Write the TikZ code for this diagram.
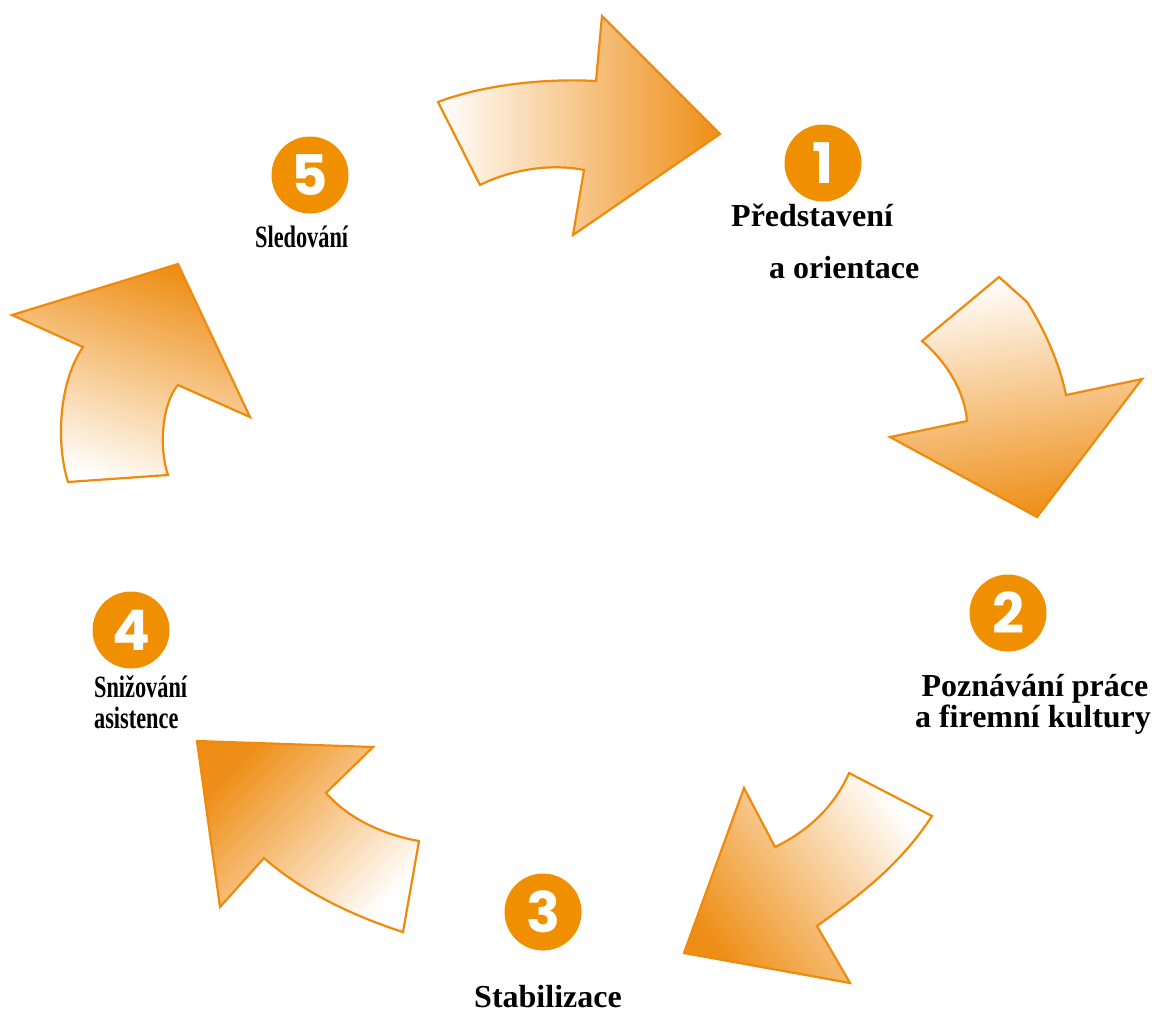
\documentclass[tikz,border=0pt]{standalone}
\usepackage{fontspec}
\setmainfont{Liberation Serif}
\newfontfamily\digitfont{Poppins}
\definecolor{arrowor}{RGB}{238,138,12}
\definecolor{fillor}{RGB}{238,142,22}
\definecolor{circor}{RGB}{240,144,0}
\begin{document}
\begin{tikzpicture}[x=1pt,y=-1pt,
  arrowshape/.style={draw=arrowor, line width=2.2pt, line join=miter, top color=fillor, bottom color=white},
  numcirc/.style={circle, fill=circor, minimum size=77pt, inner sep=0pt, text=white, font=\digitfont\bfseries\fontsize{56}{56}\selectfont},
  lbl/.style={font=\bfseries\fontsize{32}{32}\selectfont, inner sep=0pt},
  lblc/.style={font=\bfseries\fontsize{31}{31}\selectfont, inner sep=0pt, xscale=0.72}
]
\useasboundingbox (0,0) rectangle (1155,1012);
% arrow 5 -> 1 (top)
\shade[arrowshape, shading angle=-90] (438,102) .. controls (480,86) and (540,78) .. (596,81)
  -- (602,16) -- (720,134) -- (573,235) -- (584,170)
  .. controls (550,163) and (510,170) .. (480,185) -- cycle;
% arrow 1 -> 2 (right)
\shade[arrowshape, shading angle=-171] (999,277) -- (1027,302) .. controls (1045,330) and (1060,365) .. (1066,395)
  -- (1142,379) -- (1037,517) -- (890,437) -- (967,421)
  .. controls (965,395) and (950,365) .. (922,341) -- cycle;
% arrow 2 -> 3 (bottom right)
\shade[arrowshape, shading angle=127] (849,773) -- (932,816) .. controls (900,865) and (860,895) .. (817,926)
  -- (850,983) -- (684,953) -- (744,788) -- (775,847)
  .. controls (810,830) and (835,805) .. (849,773) -- cycle;
% arrow 3 -> 4 (bottom left)
\shade[arrowshape, shading angle=47] (197,741) -- (373,747) -- (326,793)
  .. controls (350,820) and (385,835) .. (419,841) -- (403,932)
  .. controls (350,915) and (300,890) .. (264,858) -- (220,907) -- cycle;
% arrow 4 -> 5 (left)
\shade[arrowshape, shading angle=-18] (178,264) -- (250,417) -- (178,385)
  .. controls (163,402) and (158,445) .. (168,475) -- (68,482)
  .. controls (55,440) and (60,380) .. (83,347) -- (12,315) -- cycle;
% numbered circles
\node[numcirc] (c1) at (823,163) {1};
\node[numcirc] (c2) at (1008,613) {2};
\node[numcirc] (c3) at (543,912) {3};
\node[numcirc] (c4) at (131,630) {4};
\node[numcirc] (c5) at (310,175) {5};
% labels
\node[lbl, anchor=base west] (t1a) at (731,226) {Představení};
\node[lbl, anchor=base west] (t1b) at (769,278) {a orientace};
\node[lbl, anchor=base] (t2a) at (1035,696) {Poznávání práce};
\node[lbl, anchor=base] (t2b) at (1033,727) {a firemní kultury};
\node[lbl, anchor=base] (t3) at (548,1007) {Stabilizace};
\node[lblc, anchor=base west] (t4a) at (94,697) {Snižování};
\node[lblc, anchor=base west] (t4b) at (94,728) {asistence};
\node[lblc, anchor=base west] (t5) at (255,247) {Sledování};
\end{tikzpicture}
\end{document}
